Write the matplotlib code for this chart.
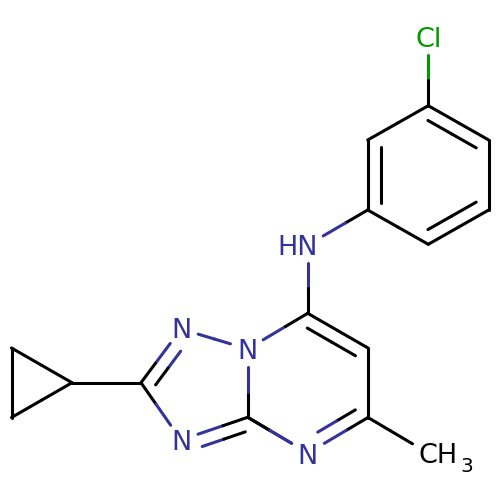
import matplotlib
matplotlib.use("Agg")
import matplotlib.pyplot as plt
import numpy as np

plt.rcParams['font.family'] = 'DejaVu Sans'

# Atom positions
atom_names = ["Cl", "C1", "C2", "C3", "C4", "C5", "C6", "NH", "C7", "C8", "C9", "N1",
              "C10", "N2", "N3", "C11", "N4", "C12", "C13", "C14", "CH3"]
atom_x = [428.3, 428.3, 488.7, 488.7, 428.3, 367.7, 367.7, 307.7, 307.7, 368.0, 368.0, 308.0,
          247.7, 247.7, 181.0, 141.0, 181.0, 72.0, 11.5, 11.5, 428.0]
atom_y = [37.0, 105.7, 140.0, 210.0, 244.3, 210.0, 140.0, 245.0, 313.3, 348.0, 417.5, 453.0,
          417.3, 349.0, 329.0, 382.7, 440.0, 382.7, 348.0, 417.5, 453.0]

# Bonds: first atom, second atom, second line side (0 none, +1/-1 side of travel)
bond_a = ["Cl", "C1", "C2", "C3", "C4", "C5", "C6", "C5", "NH", "C7", "C8", "C9", "N1", "C10",
          "N2", "N3", "C11", "N4", "C10", "C11", "C12", "C13", "C14", "C9", "N2"]
bond_b = ["C1", "C2", "C3", "C4", "C5", "C6", "C1", "NH", "C7", "C8", "C9", "N1", "C10", "N2",
          "N3", "C11", "N4", "C10", "N1", "C12", "C13", "C14", "C12", "CH3", "C7"]
bond_side = [0, 1, 0, 1, 0, 1, 0, 0, 0, 1, 0, 1, 0, 0,
             0, -1, 0, 1, 0, 0, 0, 0, 0, 0, 0]

atom_color = {"Cl": "#009900", "NH": "#333399", "N1": "#333399", "N2": "#333399",
              "N3": "#333399", "N4": "#333399"}
gap = {"Cl": 18, "NH": 18, "N1": 19, "N2": 18, "N3": 18, "N4": 18, "CH3": 18}

pos = {n: np.array([x, y]) for n, x, y in zip(atom_names, atom_x, atom_y)}

fig = plt.figure(figsize=(5, 5), dpi=100, facecolor="white")
ax = fig.add_axes([0, 0, 1, 1])
ax.set_xlim(0, 500)
ax.set_ylim(500, 0)
ax.axis("off")
LW = 2.2


def seg(p, q, a, b):
    """Draw p to q, coloured half by half after the two atoms."""
    m = (p + q) / 2
    for s, e, n in ((p, m, a), (m, q, b)):
        ax.plot([s[0], e[0]], [s[1], e[1]], color=atom_color.get(n, "black"),
                lw=LW, solid_capstyle="round", zorder=2)


for a, b, side in zip(bond_a, bond_b, bond_side):
    p, q = pos[a], pos[b]
    u = (q - p) / np.linalg.norm(q - p)
    p1 = p + u * gap.get(a, 0)
    q1 = q - u * gap.get(b, 0)
    seg(p1, q1, a, b)
    if side:
        n = np.array([-u[1], u[0]]) * side
        p2 = p + n * 13 + u * max(gap.get(a, 0), 7)
        q2 = q + n * 13 - u * max(gap.get(b, 0), 7)
        seg(p2, q2, a, b)

font = 19.5
for n, s, x, y in (("Cl", "Cl", 428.3, 46.7), ("NH", "HN", 297.7, 255.0),
                   ("N1", "N", 308.0, 464.0), ("N2", "N", 247.5, 359.3),
                   ("N3", "N", 181.0, 338.3), ("N4", "N", 181.0, 450.0)):
    ax.text(x, y, s, color=atom_color[n], fontsize=font, ha="center", va="baseline", zorder=3)
ax.text(418, 463.3, "CH", color="black", fontsize=font, ha="left", va="baseline", zorder=3)
ax.text(460.3, 472.3, "3", color="black", fontsize=14.5, ha="left", va="baseline", zorder=3)

fig.savefig("out.png", dpi=100)
